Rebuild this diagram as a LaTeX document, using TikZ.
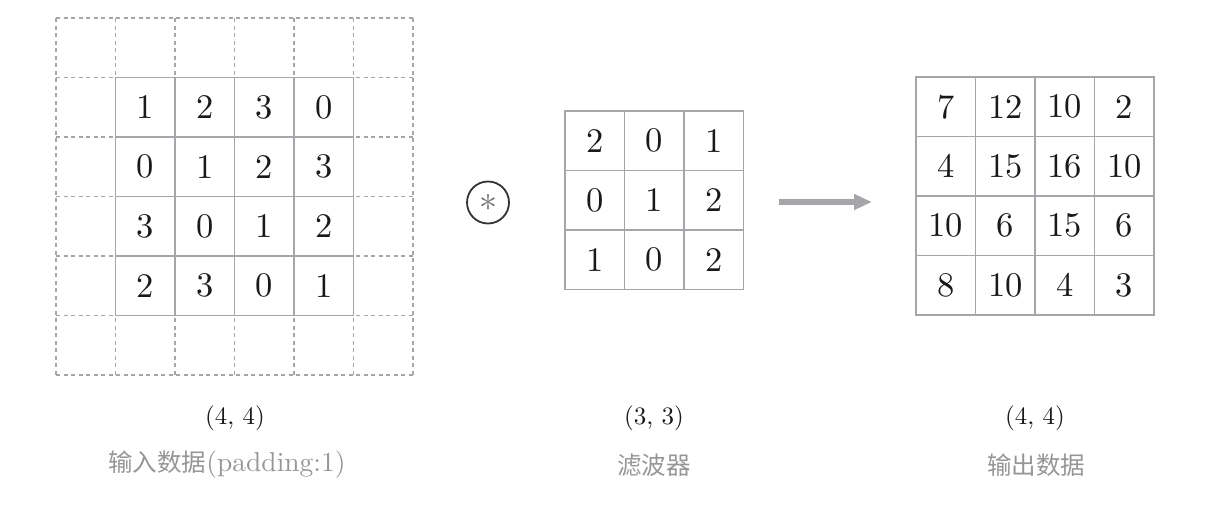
\documentclass[tikz,border=0pt]{standalone}
\usepackage{fontspec}
\setmainfont{lmroman10-regular}[Extension=.otf]
\newfontfamily\cjk{Noto Sans CJK SC}
\usetikzlibrary{arrows.meta}
\definecolor{gridgray}{RGB}{165,165,170}
\definecolor{labelgray}{RGB}{150,150,150}
\newcommand*{\cellsz}{59.5}
\begin{document}
\begin{tikzpicture}
[
	x=1pt,
	y=-1pt,
	cell/.style={draw=gridgray,line width=1.8pt,minimum size=\cellsz pt,inner sep=0pt,font=\fontsize{34.5}{40}\selectfont,text=black!90},
	padline/.style={gridgray,line width=1.5pt,dash pattern=on 4pt off 3.5pt},
	shapelabel/.style={font=\fontsize{25}{30}\selectfont,text=black!90},
	namelabel/.style={font=\fontsize{24.5}{30}\selectfont,text=labelgray},
]
	\useasboundingbox (0,0) rectangle (1208,506);

	% padding grid
	\foreach \i in {0,...,6} {
		\draw[padline] (56+\i*\cellsz,18) -- (56+\i*\cellsz,18+6*\cellsz);
		\draw[padline] (56,18+\i*\cellsz) -- (56+6*\cellsz,18+\i*\cellsz);
	}

	% input data
	\foreach \row [count=\r] in {{1,2,3,0},{0,1,2,3},{3,0,1,2},{2,3,0,1}} {
		\foreach \v [count=\c] in \row {
			\node[cell] (in-\r-\c) at (56+\c*\cellsz+0.5*\cellsz,18+\r*\cellsz+0.5*\cellsz) {\v};
		}
	}

	% convolution sign
	\node[circle,draw=black!80,line width=1.8pt,minimum size=42pt,inner sep=0pt,
	      font=\fontsize{36}{36}\selectfont,text=black!55] (conv) at (488,202.5)
	      {\raisebox{-0.54em}[0pt][0pt]{*}};

	% filter
	\foreach \row [count=\r] in {{2,0,1},{0,1,2},{1,0,2}} {
		\foreach \v [count=\c] in \row {
			\node[cell] (filt-\r-\c) at (565+\c*\cellsz-0.5*\cellsz,111+\r*\cellsz-0.5*\cellsz) {\v};
		}
	}

	% arrow
	\coordinate (arrS) at (779,202);
	\coordinate (arrE) at (872,202);
	\draw[gridgray,line width=6pt,-{Triangle[length=18pt,width=15pt]}] (arrS) -- (arrE);

	% output data
	\foreach \row [count=\r] in {{7,12,10,2},{4,15,16,10},{10,6,15,6},{8,10,4,3}} {
		\foreach \v [count=\c] in \row {
			\node[cell] (out-\r-\c) at (916+\c*\cellsz-0.5*\cellsz,77+\r*\cellsz-0.5*\cellsz) {\v};
		}
	}

	% labels
	\node[shapelabel] (inshape) at (235,418) {(4, 4)};
	\node[namelabel] (inname) at (227,465) {{\cjk 输入数据}{\fontsize{27.5}{30}\selectfont(padding:1)}};
	\node[shapelabel] (filtshape) at (654,418) {(3, 3)};
	\node[namelabel] (filtname) at (654,465) {\cjk 滤波器};
	\node[shapelabel] (outshape) at (1035,418) {(4, 4)};
	\node[namelabel] (outname) at (1036,465) {\cjk 输出数据};

\end{tikzpicture}
\end{document}
